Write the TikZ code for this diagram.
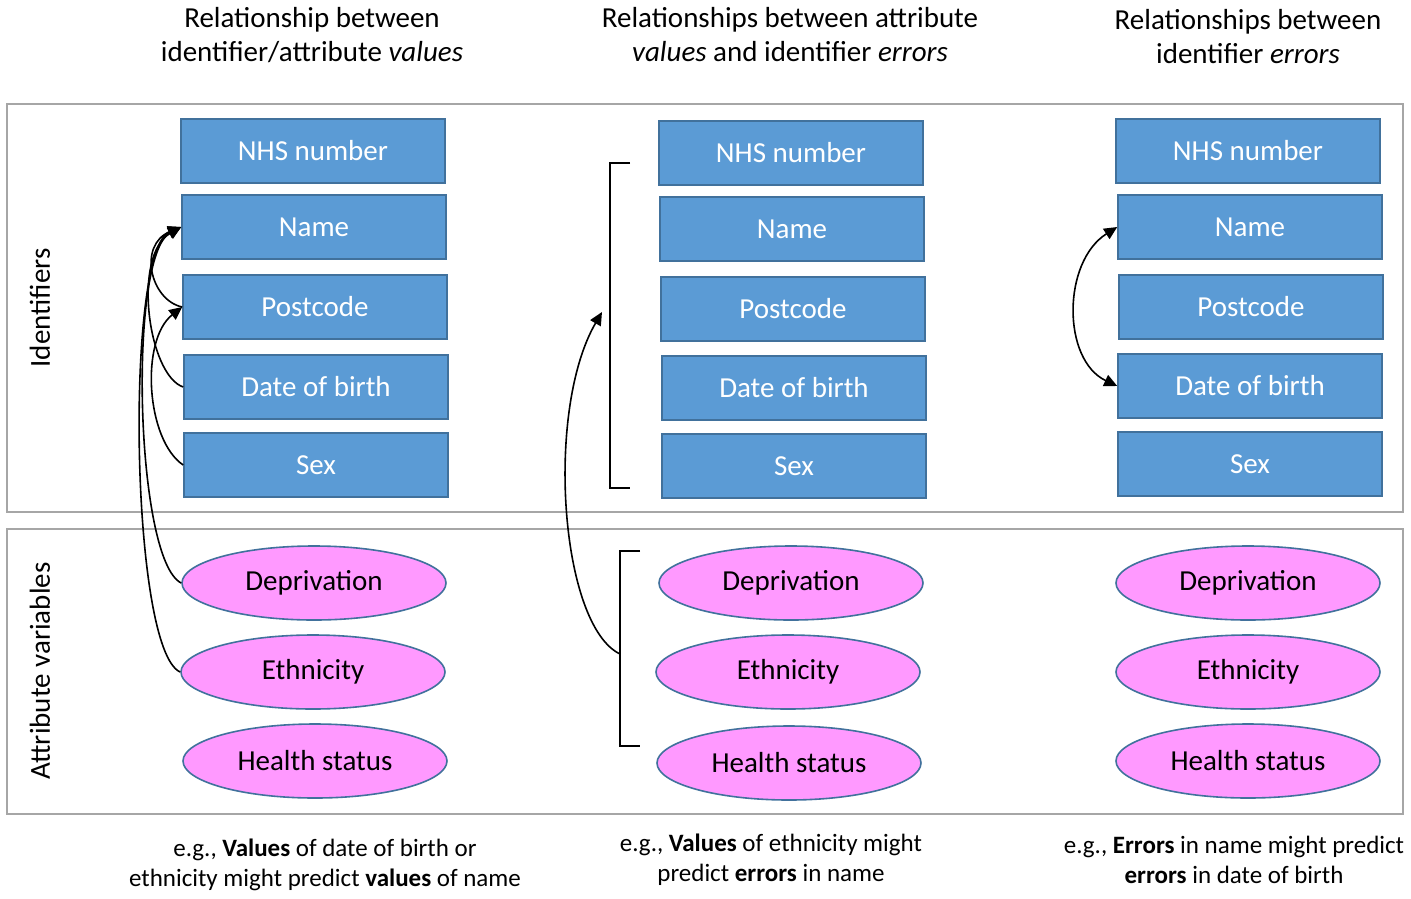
\documentclass[tikz,border=0pt]{standalone}
\usepackage{fontspec}
\setmainfont{Carlito}
\usetikzlibrary{arrows.meta,shapes.geometric}
\definecolor{boxfill}{HTML}{5B9BD5}
\definecolor{boxline}{HTML}{41719C}
\definecolor{pinkfill}{HTML}{FF99FF}
\definecolor{framegray}{HTML}{A6A6A6}
\tikzset{
  idbox/.style={draw=boxline, fill=boxfill, line width=1.6pt, minimum width=264pt, minimum height=64pt, inner sep=0pt, text=white, font=\fontsize{29}{34}\selectfont},
  attrell/.style={ellipse, draw=boxline, fill=pinkfill, line width=1.6pt, minimum width=264pt, minimum height=74pt, inner sep=0pt, text=black, font=\fontsize{29}{34}\selectfont},
  frame/.style={draw=framegray, line width=2pt},
  head/.style={align=center, font=\fontsize{29}{34}\selectfont, inner sep=0pt},
  foot/.style={align=center, font=\fontsize{25}{30}\selectfont, inner sep=0pt},
  side/.style={rotate=90, font=\fontsize{29}{34}\selectfont, inner sep=0pt},
  conn/.style={black, line width=1.6pt, -{Triangle[length=13pt,width=12pt]}},
  dconn/.style={black, line width=1.6pt, {Triangle[length=13pt,width=12pt]}-{Triangle[length=13pt,width=12pt]}},
  brk/.style={black, line width=1.6pt}
}
\begin{document}
\begin{tikzpicture}[x=1pt, y=-1pt]
\useasboundingbox (0,0) rectangle (1411,898);
% frames
\draw[frame] (7,104) rectangle (1403,512);
\draw[frame] (7,529) rectangle (1403,814);
% side labels
\node[side] (lid) at (40,308) {Identifiers};
\node[side] (lat) at (40,671) {Attribute variables};
% headers
\node[head] (h1) at (312,35) {Relationship between\\identifier/attribute \textit{values}};
\node[head] (h2) at (790,35) {Relationships between attribute\\\textit{values} and identifier \textit{errors}};
\node[head] (h3) at (1248,37) {Relationships between\\identifier \textit{errors}};
% column 1
\node[idbox] (nhs1) at (313,151) {NHS number};
\node[idbox] (nam1) at (314,227) {Name};
\node[idbox] (pc1)  at (315,307) {Postcode};
\node[idbox] (dob1) at (316,387) {Date of birth};
\node[idbox] (sex1) at (316,465) {Sex};
\node[attrell] (dep1) at (314,583) {Deprivation};
\node[attrell] (eth1) at (313,672) {Ethnicity};
\node[attrell] (hea1) at (315,761) {Health status};
% column 2
\node[idbox] (nhs2) at (791,153) {NHS number};
\node[idbox] (nam2) at (792,229) {Name};
\node[idbox] (pc2)  at (793,309) {Postcode};
\node[idbox] (dob2) at (794,388) {Date of birth};
\node[idbox] (sex2) at (794,466) {Sex};
\node[attrell] (dep2) at (791,583) {Deprivation};
\node[attrell] (eth2) at (788,672) {Ethnicity};
\node[attrell] (hea2) at (789,763) {Health status};
% column 3
\node[idbox] (nhs3) at (1248,151) {NHS number};
\node[idbox] (nam3) at (1250,227) {Name};
\node[idbox] (pc3)  at (1251,307) {Postcode};
\node[idbox] (dob3) at (1250,386) {Date of birth};
\node[idbox] (sex3) at (1250,464) {Sex};
\node[attrell] (dep3) at (1248,583) {Deprivation};
\node[attrell] (eth3) at (1248,672) {Ethnicity};
\node[attrell] (hea3) at (1248,761) {Health status};
% column 1 connectors
\draw[conn] (pc1.west) .. controls (150,300) and (138,245) .. (nam1.west);
\draw[conn] (dob1.west) .. controls (148,375) and (132,255) .. (nam1.west);
\draw[conn] (sex1.west) .. controls (146,440) and (140,340) .. (pc1.west);
\draw[conn] (dep1.west) .. controls (135,560) and (128,255) .. (nam1.west);
\draw[conn] (eth1.west) .. controls (130,650) and (125,250) .. (nam1.west);
% column 2 brackets
\coordinate (bt1) at (630,163);
\coordinate (bt2) at (610,163);
\coordinate (bt3) at (610,488);
\coordinate (bt4) at (630,488);
\coordinate (bb1) at (640,551);
\coordinate (bb2) at (620,551);
\coordinate (bb3) at (620,746);
\coordinate (bb4) at (640,746);
\coordinate (bbm) at (620,654);
\coordinate (btm) at (602,312);
\draw[brk] (bt1) -- (bt2) -- (bt3) -- (bt4);
\draw[brk] (bb1) -- (bb2) -- (bb3) -- (bb4);
\draw[conn] (bbm) .. controls (560,625) and (545,410) .. (btm);
% column 3 connector
\draw[dconn] (nam3.west) .. controls (1062,262) and (1062,360) .. (dob3.west);
% footers
\node[foot] (f1) at (325,865) {e.g., \textbf{Values} of date of birth or\\ethnicity might predict \textbf{values} of name};
\node[foot] (f2) at (771,860) {e.g., \textbf{Values} of ethnicity might\\predict \textbf{errors} in name};
\node[foot] (f3) at (1234,860) {e.g., \textbf{Errors} in name might predict\\\textbf{errors} in date of birth};
\end{tikzpicture}
\end{document}
